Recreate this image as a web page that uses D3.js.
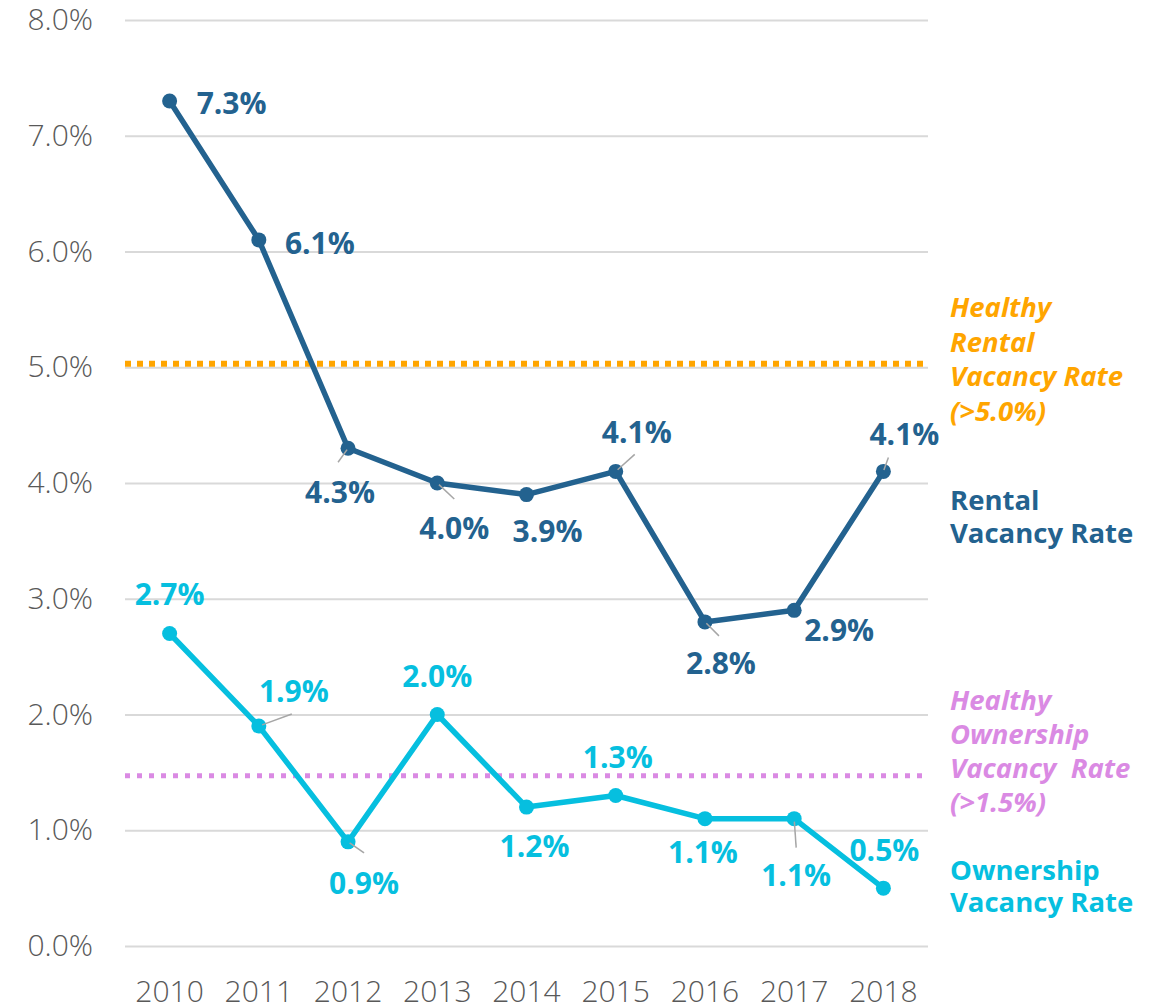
<!DOCTYPE html>
<html>
<head>
<meta charset="utf-8">
<script src="https://cdn.jsdelivr.net/npm/d3@7"></script>
<style>
  body { margin: 0; background: #fff; }
  svg text { font-family: "Open Sans", "Noto Sans", sans-serif; }
</style>
</head>
<body>
<div id="chart"></div>
<script>
      // data
      var years = ["2010", "2011", "2012", "2013", "2014", "2015", "2016", "2017", "2018"];
      var rentalRates = [7.3, 6.1, 4.3, 4.0, 3.9, 4.1, 2.8, 2.9, 4.1];
      var ownershipRates = [2.7, 1.9, 0.9, 2.0, 1.2, 1.3, 1.1, 1.1, 0.5];
      var yTicks = [0, 1, 2, 3, 4, 5, 6, 7, 8];
      var healthyRental = 5.03;
      var healthyOwnership = 1.47;

      // label placement (pixel offsets from each point)
      var rentalLabelOffsets = [[62, 2], [61, 3], [-8, 44], [17, 45], [21, 37], [21, -39], [16, 41], [45, 20], [21, -37]];
      var ownershipLabelOffsets = [[0, -39], [35, -35], [16, 41], [0, -38], [8, 39], [2, -38], [-2, 34], [2, 57], [1, -38]];
      var rentalLeaders = [null, null, [-10, 14], [17, 16], null, [19, -17], [14, 14], null, [5, -14]];
      var ownershipLeaders = [null, [33, -12], [16, 11], null, null, null, null, [2, 29], null];

      var colRental = "#23628f", colOwner = "#06bfdf", colOrange = "#ffa500", colPink = "#da8ae3";

      var width = 1159, height = 1007;
      var plotLeft = 125, plotRight = 928;

      var svg = d3.select("#chart").append("svg")
          .attr("width", width)
          .attr("height", height);

      ////// Scales /////////////////
      var xScale = d3.scaleBand()
          .domain(years)
          .range([plotLeft, plotRight]);
      var yScale = d3.scaleLinear()
          .domain([0, 8])
          .range([946, 20]);
      function xc(d) { return xScale(d) + xScale.bandwidth() / 2; }

      // grid
      var yGrid = d3.axisLeft(yScale).tickValues(yTicks).tickSize(-(plotRight - plotLeft)).tickFormat("");
      var grid = svg.append("g")
          .attr("transform", "translate(" + plotLeft + ",0)")
          .call(yGrid);
      grid.select(".domain").remove();
      grid.selectAll("line").attr("stroke", "#d9d9d9").attr("stroke-width", 2);

      // y axis labels
      var yAxis = d3.axisLeft(yScale).tickValues(yTicks).tickSize(0).tickPadding(0)
          .tickFormat(function(d) { return d.toFixed(1) + "%"; });
      var ya = svg.append("g")
          .attr("transform", "translate(93,0)")
          .call(yAxis);
      ya.select(".domain").remove();
      ya.selectAll("text")
          .attr("fill", "#595959")
          .style("font-size", "30px")
          .style("font-weight", 300);

      // x axis labels
      var xAxis = d3.axisBottom(xScale).tickSize(0).tickPadding(0);
      var xa = svg.append("g")
          .attr("transform", "translate(0,981)")
          .call(xAxis);
      xa.select(".domain").remove();
      xa.selectAll("text")
          .attr("fill", "#595959")
          .style("font-size", "30px")
          .style("font-weight", 300);

      // healthy reference lines
      svg.append("line")
          .attr("x1", plotLeft).attr("x2", plotRight + 1)
          .attr("y1", yScale(healthyRental)).attr("y2", yScale(healthyRental))
          .attr("stroke", colOrange).attr("stroke-width", 6)
          .attr("stroke-dasharray", "6,6");
      svg.append("line")
          .attr("x1", plotLeft).attr("x2", plotRight + 1)
          .attr("y1", yScale(healthyOwnership)).attr("y2", yScale(healthyOwnership))
          .attr("stroke", colPink).attr("stroke-width", 5)
          .attr("stroke-dasharray", "5,7");

      function drawSeries(values, color, offsets, leaders) {
          var pts = years.map(function(y, i) { return {x: y, v: values[i], i: i}; });
          var line = d3.line()
              .x(function(d) { return xc(d.x); })
              .y(function(d) { return yScale(d.v); });

          var g = svg.append("g");

          g.append("path")
              .datum(pts)
              .attr("d", line)
              .attr("fill", "none")
              .attr("stroke", color)
              .attr("stroke-width", 5.5)
              .attr("stroke-linejoin", "round");

          g.selectAll("circle")
              .data(pts)
              .enter()
              .append("circle")
              .attr("cx", function(d) { return xc(d.x); })
              .attr("cy", function(d) { return yScale(d.v); })
              .attr("r", 7.5)
              .attr("fill", color);

          // leader lines, drawn over the dots
          g.selectAll(".leader")
              .data(pts.filter(function(d) { return leaders[d.i]; }))
              .enter()
              .append("line")
              .attr("x1", function(d) { return xc(d.x) + leaders[d.i][0] * 0.1; })
              .attr("y1", function(d) { return yScale(d.v) + leaders[d.i][1] * 0.1; })
              .attr("x2", function(d) { return xc(d.x) + leaders[d.i][0]; })
              .attr("y2", function(d) { return yScale(d.v) + leaders[d.i][1]; })
              .attr("stroke", "#a6a6a6")
              .attr("stroke-width", 1.5);

          g.selectAll("text")
              .data(pts)
              .enter()
              .append("text")
              .attr("x", function(d) { return xc(d.x) + offsets[d.i][0]; })
              .attr("y", function(d) { return yScale(d.v) + offsets[d.i][1]; })
              .attr("dy", "0.36em")
              .attr("text-anchor", "middle")
              .attr("fill", color)
              .style("font-size", "30px")
              .style("font-weight", 700)
              .text(function(d) { return d.v.toFixed(1) + "%"; });
      }

      drawSeries(rentalRates, colRental, rentalLabelOffsets, rentalLeaders);
      drawSeries(ownershipRates, colOwner, ownershipLabelOffsets, ownershipLeaders);

      // right-hand annotations
      function note(lines, y0, step, color, italic) {
          var t = svg.append("text")
              .attr("x", 950)
              .attr("fill", color)
              .style("font-size", "27.5px")
              .style("font-weight", 700)
              .style("font-style", italic ? "italic" : "normal")
              .style("white-space", "pre");
          lines.forEach(function(s, i) {
              t.append("tspan").attr("x", 950).attr("y", y0 + i * step).text(s);
          });
      }
      note(["Healthy", "Rental", "Vacancy Rate", "(>5.0%)"], 317, 34.5, colOrange, true);
      note(["Rental", "Vacancy Rate"], 510, 33, colRental, false);
      note(["Healthy", "Ownership", "Vacancy  Rate", "(>1.5%)"], 710, 34, colPink, true);
      note(["Ownership", "Vacancy Rate"], 880, 32, colOwner, false);
</script>
</body>
</html>
